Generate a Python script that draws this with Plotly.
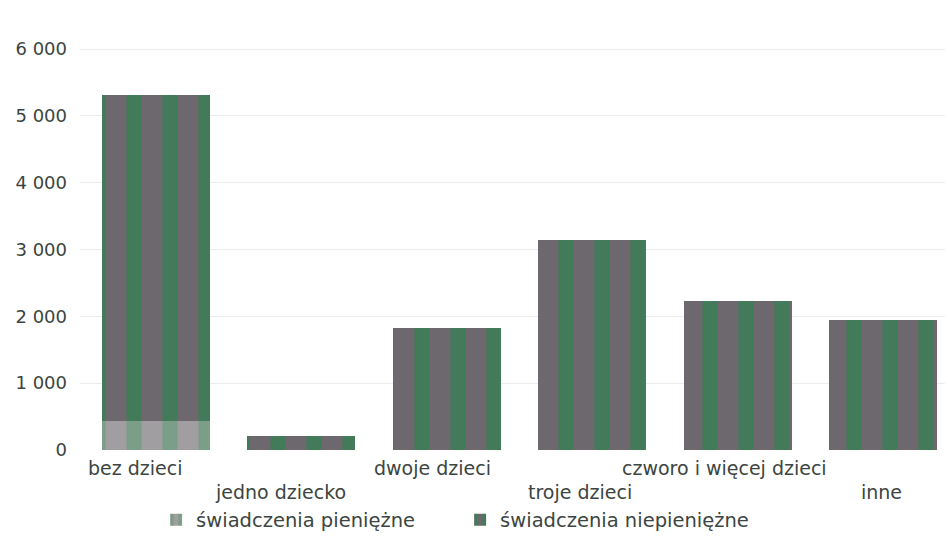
import plotly.graph_objects as go

categories = ["bez dzieci", "jedno dziecko", "dwoje dzieci", "troje dzieci",
              "czworo i więcej dzieci", "inne"]
pieniezne = [430, 0, 0, 0, 0, 0]
niepieniezne = [4880, 210, 1825, 3145, 2230, 1945]
series_names = ["świadczenia pieniężne", "świadczenia niepieniężne"]
y_tickvals = [0, 1000, 2000, 3000, 4000, 5000, 6000, 6600]
y_ticktext = ["0", "1 000", "2 000", "3 000", "4 000", "5 000", "6 000", ""]

font_family = "DejaVu Sans, Verdana, sans-serif"
text_color = "#3c4541"
fsize = 18

# horizontal nudges of the category labels, in pixels (layout only)
label_shift = [-20, -21, -14, -12, -13, -2]

fig = go.Figure()
fig.add_trace(go.Bar(
    x=categories, y=pieniezne, name=series_names[0],
    marker=dict(color="#9aa39d", line=dict(width=0),
                pattern=dict(shape="|", fgcolor="#7a9e87", bgcolor="#a19ea2",
                             size=36, solidity=0.42, fillmode="replace")),
))
fig.add_trace(go.Bar(
    x=categories, y=niepieniezne, name=series_names[1],
    marker=dict(color="#5d6660", line=dict(width=0),
                pattern=dict(shape="|", fgcolor="#437b5a", bgcolor="#6c686d",
                             size=36, solidity=0.42, fillmode="replace")),
))

annotations = []
for i, c in enumerate(categories):
    annotations.append(dict(
        x=c, xref="x", y=0, yref="paper", text=c, showarrow=False,
        xanchor="center", yanchor="middle", xshift=label_shift[i],
        yshift=-18 if i % 2 == 0 else -42,
        font=dict(family=font_family, size=19, color=text_color),
    ))

fig.update_layout(
    width=948, height=546,
    margin=dict(l=80, r=3, t=9, b=96),
    paper_bgcolor="white", plot_bgcolor="white",
    barmode="stack", bargap=0.258,
    font=dict(family=font_family, size=fsize, color=text_color),
    xaxis=dict(range=[-0.522, 5.426], showticklabels=False, showgrid=False,
               zeroline=False, showline=False, ticks=""),
    yaxis=dict(range=[0, 6600], tickvals=y_tickvals, ticktext=y_ticktext,
               showgrid=True, gridcolor="#ececec", gridwidth=1,
               zeroline=False, showline=False, ticks="", ticklabelstandoff=12,
               tickfont=dict(family=font_family, size=fsize, color=text_color)),
    legend=dict(orientation="h", x=0.088, xanchor="left", y=-0.159,
                yanchor="middle", entrywidth=259, entrywidthmode="pixels",
                itemwidth=30,
                font=dict(family=font_family, size=19.5, color=text_color),
                traceorder="normal"),
    annotations=annotations,
    showlegend=True,
)

fig.write_html("out.html", config={"displayModeBar": False},
               post_script="document.body.style.margin='0';")
